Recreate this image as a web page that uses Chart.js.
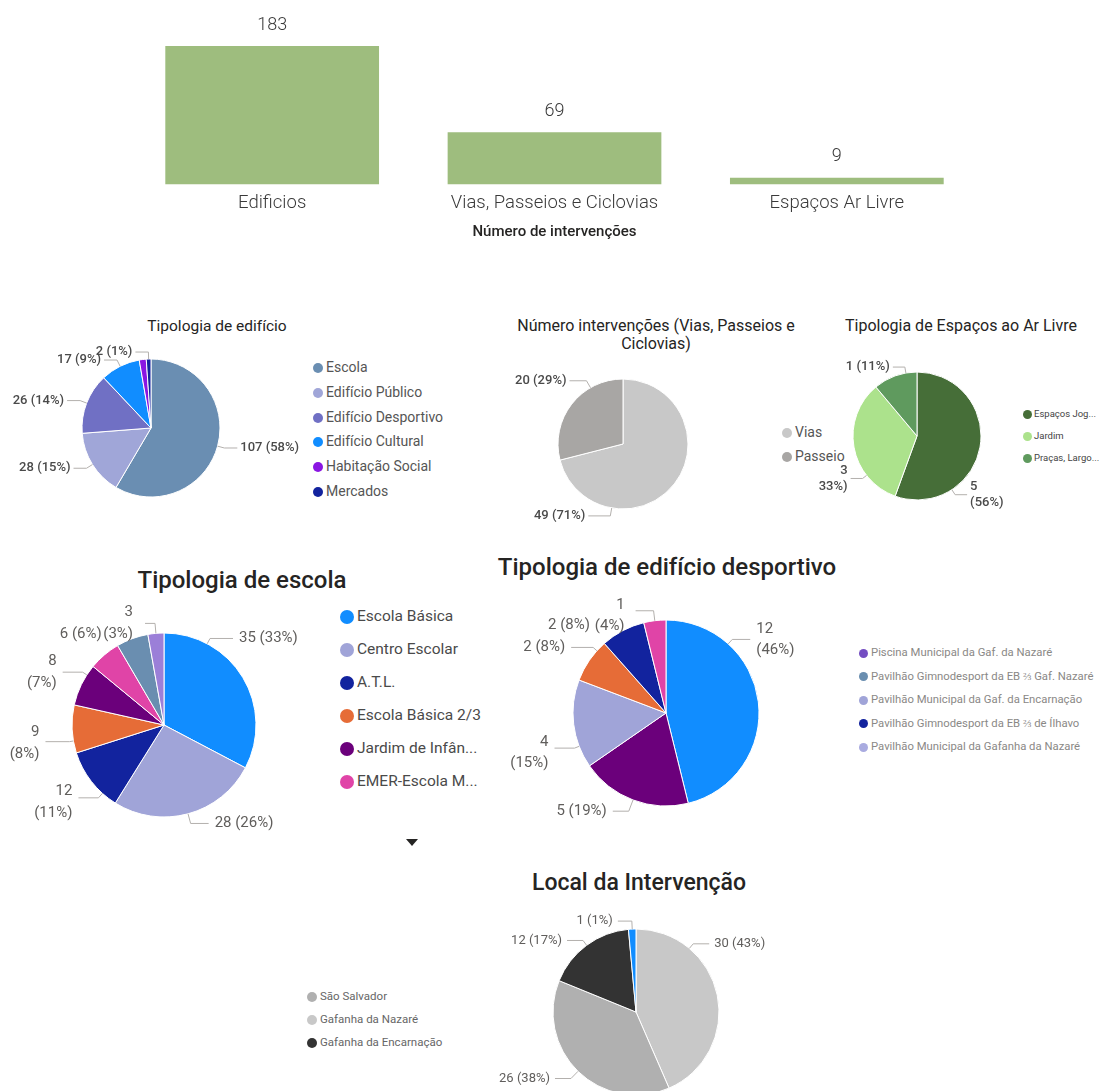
<!DOCTYPE html>
<html><head><meta charset="utf-8">
<script src="https://cdn.jsdelivr.net/npm/chart.js@4.4.1/dist/chart.umd.min.js"></script>
<style>
html,body{margin:0;padding:0;background:#fff;width:1103px;height:1091px;overflow:hidden;position:relative;font-family:Roboto,'Open Sans',sans-serif;}
canvas{position:absolute;}
.title{position:absolute;white-space:nowrap;color:#252423;font-family:Roboto,sans-serif;transform:translate(-50%,-50%);text-align:center;}
</style></head><body>
<script>
// ---------- DATA ----------
const barCategories = ['Edificios', 'Vias, Passeios e Ciclovias', 'Espaços Ar Livre'];
const barValues = [183, 69, 9];

const edificioLabels = ['Escola', 'Edifício Público', 'Edifício Desportivo', 'Edifício Cultural', 'Habitação Social', 'Mercados'];
const edificioValues = [107, 28, 26, 17, 3, 2];

const viasLabels = ['Vias', 'Passeio'];
const viasValues = [49, 20];

const espacosLabels = ['Espaços Jog...', 'Jardim', 'Praças, Largo...'];
const espacosValues = [5, 3, 1];

const escolaLabels = ['Escola Básica', 'Centro Escolar', 'A.T.L.', 'Escola Básica 2/3', 'Jardim de Infân...', 'EMER-Escola M...', 'Outra (7)', 'Outra (8)'];
const escolaValues = [35, 28, 12, 9, 8, 6, 6, 3];
const escolaLegendCount = 6;

const desportivoValues = [12, 5, 4, 2, 2, 1];
const desportivoSliceLabels = ['Item 1', 'Item 2', 'Item 3', 'Item 4', 'Item 5', 'Item 6'];
const desportivoLegendLabels = ['Piscina Municipal da Gaf. da Nazaré', 'Pavilhão Gimnodesport da EB ⅔ Gaf. Nazaré', 'Pavilhão Municipal da Gaf. da Encarnação', 'Pavilhão Gimnodesport da EB ⅔ de Ílhavo', 'Pavilhão Municipal da Gafanha da Nazaré'];

const localLabels = ['Gafanha da Nazaré', 'São Salvador', 'Gafanha da Encarnação', 'Outro'];
const localValues = [30, 26, 12, 1];
const localLegendLabels = ['São Salvador', 'Gafanha da Nazaré', 'Gafanha da Encarnação'];

// ---------- STYLES ----------
const C = {
  edificio: ['#6A8EB2', '#A0A6D8', '#7070C4', '#118DFF', '#8A16E2', '#12239E'],
  vias: ['#C8C8C8', '#A8A6A4'],
  espacos: ['#466E38', '#ACE28C', '#5F9A5E'],
  escola: ['#118DFF', '#A0A4D8', '#12239E', '#E66C37', '#6B007B', '#E044A7', '#6A8EB0', '#9B7FD8'],
  desportivo: ['#118DFF', '#6B007B', '#A0A4D8', '#E66C37', '#12239E', '#E044A7'],
  desportivoLegend: ['#744EC2', '#6A8EB0', '#A0A4D8', '#12239E', '#A9ABE0'],
  local: ['#C8C8C8', '#B0B0B0', '#333333', '#118DFF'],
  localLegend: ['#B0B0B0', '#C8C8C8', '#333333']
};

function addCanvas(left, top, w, h) {
  const c = document.createElement('canvas');
  c.width = w; c.height = h;
  c.style.left = left + 'px'; c.style.top = top + 'px';
  c.style.width = w + 'px'; c.style.height = h + 'px';
  document.body.appendChild(c);
  return c;
}
function addTitle(lines, cx, cy, size, weight, lh) {
  const d = document.createElement('div');
  d.className = 'title';
  d.style.left = cx + 'px'; d.style.top = cy + 'px';
  d.style.fontSize = size + 'px'; d.style.fontWeight = weight;
  d.style.lineHeight = (lh || size * 1.2) + 'px';
  d.innerHTML = lines.map(t => t.replace(/&/g,'&amp;').replace(/</g,'&lt;')).join('<br>');
  document.body.appendChild(d);
}
function addLegend(labels, colors, o) {
  labels.forEach((t, i) => {
    const y = o.y0 + i * o.step;
    const dot = document.createElement('div');
    dot.style.cssText = `position:absolute;left:${o.mx - o.r}px;top:${y - o.r}px;width:${2*o.r}px;height:${2*o.r}px;border-radius:50%;background:${colors[i]}`;
    document.body.appendChild(dot);
    const s = document.createElement('div');
    s.textContent = t;
    s.style.cssText = `position:absolute;left:${o.tx}px;top:${y}px;transform:translateY(-52%);font:${o.font};color:${o.color};white-space:nowrap;line-height:1.2`;
    document.body.appendChild(s);
  });
}

const pieLabelPlugin = {
  id: 'pieLabels',
  afterDatasetsDraw(chart) {
    const o = chart.canvas.$labelOpts;
    if (!o || !o.specs) return;
    const ctx = chart.ctx, meta = chart.getDatasetMeta(0), vals = chart.data.datasets[0].data;
    const total = vals.reduce((a, b) => a + b, 0);
    ctx.save();
    ctx.font = o.font; ctx.fillStyle = o.color; ctx.textBaseline = 'middle';
    meta.data.forEach((arc, i) => {
      const s = o.specs[i]; if (!s || s.hide) return;
      const p = arc.getProps(['x', 'y', 'startAngle', 'endAngle', 'outerRadius'], true);
      const a = s.angle != null ? (s.angle - 90) * Math.PI / 180 : (p.startAngle + p.endAngle) / 2;
      const r = p.outerRadius;
      const el = s.elbow != null ? s.elbow : o.elbow;
      const h = s.h != null ? s.h : o.h;
      const ex = p.x + r * Math.cos(a), ey = p.y + r * Math.sin(a);
      const kx = p.x + (r + el) * Math.cos(a), ky = p.y + (r + el) * Math.sin(a);
      const right = s.side ? s.side === 'right' : Math.cos(a) >= 0;
      const hx = kx + (right ? h : -h);
      if (s.leader !== false) {
        ctx.beginPath(); ctx.moveTo(ex, ey); ctx.lineTo(kx, ky); ctx.lineTo(hx, ky);
        ctx.strokeStyle = o.lineColor; ctx.lineWidth = 1; ctx.stroke();
      }
      const pct = Math.round(vals[i] / total * 100);
      const lines = s.wrap ? [String(vals[i]), '(' + pct + '%)'] : [vals[i] + ' (' + pct + '%)'];
      const tx = hx + (right ? o.gap : -o.gap) + (s.dx || 0);
      const lh = o.lineHeight || 18;
      const ty0 = ky + (s.dy || 0) - (lines.length - 1) * lh / 2;
      ctx.textAlign = right ? 'left' : 'right';
      lines.forEach((t, j) => ctx.fillText(t, tx, ty0 + j * lh));
    });
    ctx.restore();
  }
};

function makePie(canvas, labels, values, colors, r, labelOpts) {
  canvas.$labelOpts = labelOpts;
  return new Chart(canvas, {
    type: 'pie',
    data: { labels: labels, datasets: [{ data: values, backgroundColor: colors, borderColor: '#ffffff', borderWidth: 1 }] },
    options: {
      responsive: false, animation: false, devicePixelRatio: 1, radius: r,
      layout: { padding: 0 }, events: [],
      plugins: { legend: { display: false }, tooltip: { enabled: false }, title: { display: false } }
    },
    plugins: [pieLabelPlugin]
  });
}

// ---------- BAR CHART ----------
const barValuePlugin = {
  id: 'barValues',
  afterDatasetsDraw(chart, args, o) {
    const meta = chart.getDatasetMeta(0), ctx = chart.ctx;
    ctx.save();
    ctx.font = o.font; ctx.fillStyle = o.color; ctx.textAlign = 'center'; ctx.textBaseline = 'middle';
    meta.data.forEach((bar, i) => ctx.fillText(String(chart.data.datasets[0].data[i]), bar.x, bar.y - o.offset));
    ctx.restore();
  }
};
new Chart(addCanvas(131, 0, 847, 241), {
  type: 'bar',
  data: { labels: barCategories, datasets: [{ data: barValues, backgroundColor: '#9EBD7E', categoryPercentage: 1, barPercentage: 0.757 }] },
  options: {
    responsive: false, animation: false, devicePixelRatio: 1, events: [],
    layout: { padding: { top: 46, left: 0, right: 0, bottom: 0 } },
    scales: {
      x: {
        grid: { display: false, drawTicks: false }, border: { display: false },
        ticks: { font: { family: 'Roboto', size: 18.5, weight: '300', lineHeight: 1.0 }, color: '#3a3a3a', padding: 10, maxRotation: 0, autoSkip: false },
        title: { display: true, text: 'Número de intervenções', font: { family: 'Roboto', size: 15, weight: '500' }, color: '#252423', padding: { top: 0, bottom: 0 } }
      },
      y: { display: false, min: 0, max: Math.max(...barValues) }
    },
    plugins: { legend: { display: false }, tooltip: { enabled: false }, barValues: { font: '300 18px Roboto', color: '#3a3a3a', offset: 21 } }
  },
  plugins: [barValuePlugin]
});

// ---------- PIE 1: Tipologia de edifício ----------
addTitle(['Tipologia de edifício'], 217, 326, 15.5, 400);
makePie(addCanvas(0, 338, 302, 180), edificioLabels, edificioValues, C.edificio, 69, {
  font: '500 13px Roboto', color: '#4a4a4a', lineColor: '#b3b0ad', elbow: 7, h: 13, gap: 3,
  specs: [{}, {}, {}, {}, { hide: true }, {}]
});
addLegend(edificioLabels, C.edificio, { mx: 318, tx: 326, y0: 368, step: 24.8, r: 5, font: '14px Roboto', color: '#555555' });

// ---------- PIE 2: Vias ----------
addTitle(['Número intervenções (Vias, Passeios e', 'Ciclovias)'], 656, 335, 16, 400, 18);
makePie(addCanvas(513, 364, 220, 160), viasLabels, viasValues, C.vias, 65, {
  font: '500 13px Roboto', color: '#4a4a4a', lineColor: '#b3b0ad', elbow: 8, h: 14, gap: 3,
  specs: [{ angle: 190, h: 22 }, { angle: 330, h: 17 }]
});
addLegend(viasLabels, C.vias, { mx: 787, tx: 795, y0: 433, step: 24, r: 5, font: '14px Roboto', color: '#555555' });

// ---------- PIE 3: Espaços ao Ar Livre ----------
addTitle(['Tipologia de Espaços ao Ar Livre'], 961, 326, 16, 400);
makePie(addCanvas(819, 356, 196, 160), espacosLabels, espacosValues, C.espacos, 64, {
  font: '500 13px Roboto', color: '#4a4a4a', lineColor: '#b3b0ad', elbow: 6, h: 12, gap: 3, lineHeight: 16,
  specs: [{ angle: 147, wrap: true }, { angle: 232, elbow: 5, wrap: true }, { angle: 350 }]
});
addLegend(espacosLabels, C.espacos, { mx: 1027, tx: 1034, y0: 414, step: 22, r: 4.5, font: '9.5px Roboto', color: '#444444' });

// ---------- PIE 4: Tipologia de escola ----------
addTitle(['Tipologia de escola'], 242, 580, 24, 500);
makePie(addCanvas(0, 595, 328, 260), escolaLabels, escolaValues, C.escola, 92, {
  font: '15px Roboto', color: '#605E5C', lineColor: '#b3b0ad', elbow: 6, h: 18, gap: 6, lineHeight: 22,
  specs: [
    { angle: 28, h: 23 },
    { elbow: 10, h: 18 },
    { angle: 222, h: 20, wrap: true, dy: 4 },
    { angle: 260, elbow: 4, h: 24, wrap: true, dy: 2 },
    { angle: 303, elbow: 5, h: 20, wrap: true },
    { hide: true },
    { angle: 333, elbow: 10, h: 8, leader: false, dx: -2 },
    { elbow: 10, h: 10, wrap: true, dx: -6 }
  ]
});
addLegend(escolaLabels.slice(0, escolaLegendCount), C.escola, { mx: 347, tx: 357, y0: 617, step: 33, r: 7, font: '15.5px Roboto', color: '#4a4a4a' });
(function () {
  const a = document.createElement('div');
  a.style.cssText = 'position:absolute;left:406px;top:839px;width:0;height:0;border-left:6px solid transparent;border-right:6px solid transparent;border-top:7px solid #252423';
  document.body.appendChild(a);
})();

// ---------- PIE 5: Tipologia de edifício desportivo ----------
addTitle(['Tipologia de edifício desportivo'], 667, 567, 24, 500);
makePie(addCanvas(496, 588, 340, 250), desportivoSliceLabels, desportivoValues, C.desportivo, 93, {
  font: '15px Roboto', color: '#605E5C', lineColor: '#b3b0ad', elbow: 6, h: 16, gap: 6, lineHeight: 21,
  specs: [
    { angle: 42, h: 18, wrap: true },
    { elbow: 12, h: 16 },
    { angle: 249, elbow: 5, h: 20, wrap: true, dy: 5 },
    { angle: 312, elbow: 5, h: 22 },
    { elbow: 6, h: 24, leader: false },
    { elbow: 10, h: 18, wrap: true, dy: 5, dx: -5 }
  ]
});
addLegend(desportivoLegendLabels, C.desportivoLegend, { mx: 863, tx: 871, y0: 653, step: 23.5, r: 4.5, font: '11.3px Roboto', color: '#8a8886' });

// ---------- PIE 6: Local da Intervenção ----------
addTitle(['Local da Intervenção'], 639, 883, 23, 500);
makePie(addCanvas(486, 902, 300, 220), localLabels, localValues, C.local, 83, {
  font: '13px Roboto', color: '#605E5C', lineColor: '#b3b0ad', elbow: 6, h: 16, gap: 5,
  specs: [{ angle: 40 }, { elbow: 10 }, {}, { elbow: 8, h: 14 }]
});
addLegend(localLegendLabels, C.localLegend, { mx: 312, tx: 320, y0: 997, step: 23, r: 5, font: '11.5px Roboto', color: '#666666' });
</script>
</body></html>
